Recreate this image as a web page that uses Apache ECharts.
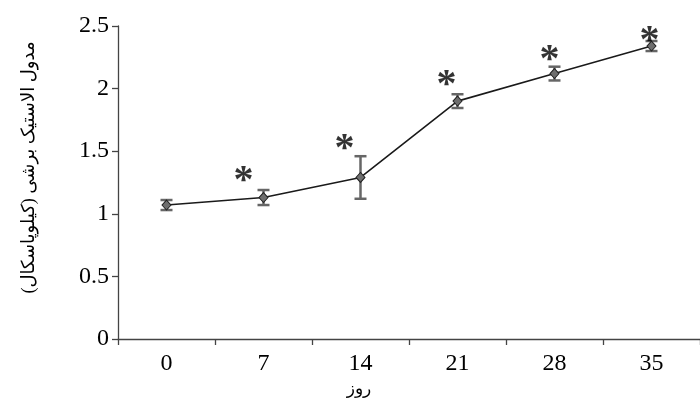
<!DOCTYPE html>
<html>
<head>
<meta charset="utf-8">
<script src="https://cdn.jsdelivr.net/npm/echarts@6/dist/echarts.min.js"></script>
<style>html,body{margin:0;padding:0;background:#fff;}#main{width:700px;height:409px;}</style>
</head>
<body>
<div id="main"></div>
<script>
const categories = ['0', '7', '14', '21', '28', '35'];
const meanValues = [1.07, 1.13, 1.29, 1.90, 2.12, 2.34];
const errorValues = [0.04, 0.06, 0.17, 0.055, 0.055, 0.04];
const sigMarkY = [null, 1.32, 1.58, 2.09, 2.29, 2.44];
const yTicks = ['0', '0.5', '1', '1.5', '2', '2.5'];
const xTitle = 'روز';
const yTitle = 'مدول الاستیک برشی (کیلوپاسکال)';

const sigOffsetX = [0, -20, -16, -11, -5, -2];
const serif = 'Liberation Serif, Times New Roman, DejaVu Sans, serif';

const chart = echarts.init(document.getElementById('main'), null, {renderer: 'canvas'});

const errData = categories.map((c, i) => [i, meanValues[i] - errorValues[i], meanValues[i] + errorValues[i]]);
const sigData = [];
categories.forEach((c, i) => {
  if (sigMarkY[i] != null) {
    sigData.push({value: [i, sigMarkY[i]], label: {offset: [sigOffsetX[i], 8]}});
  }
});

chart.setOption({
  animation: false,
  backgroundColor: '#fff',
  grid: {left: 118, top: 26, width: 588, height: 313, containLabel: false},
  xAxis: {
    type: 'category',
    data: categories,
    boundaryGap: true,
    name: xTitle,
    nameLocation: 'middle',
    nameGap: 40,
    nameTextStyle: {fontFamily: serif, fontSize: 17, color: '#000', padding: [0, 100, 0, 0]},
    axisLine: {lineStyle: {color: '#444', width: 1.3}},
    axisTick: {show: true, alignWithLabel: false, length: 6, lineStyle: {color: '#444', width: 1.3}},
    axisLabel: {fontFamily: serif, fontSize: 24, color: '#000', margin: 13},
    splitLine: {show: false}
  },
  yAxis: {
    type: 'value',
    min: 0, max: 2.5, interval: 0.5,
    name: yTitle,
    nameLocation: 'middle',
    nameGap: 80,
    nameRotate: 90,
    nameTextStyle: {fontFamily: serif, fontSize: 18, color: '#000', padding: [0, 0, 0, 30]},
    axisLine: {show: true, lineStyle: {color: '#444', width: 1.3}},
    axisTick: {show: true, length: 6, lineStyle: {color: '#444', width: 1.3}},
    axisLabel: {fontFamily: serif, fontSize: 24, color: '#000', margin: 9,
      formatter: (v) => yTicks[Math.round(v / 0.5)]},
    splitLine: {show: false}
  },
  series: [
    {
      type: 'custom',
      name: 'error',
      data: errData,
      z: 1,
      renderItem: function (params, api) {
        const x = api.value(0);
        const lo = api.coord([x, api.value(1)]);
        const hi = api.coord([x, api.value(2)]);
        const hw = 6;
        const style = {stroke: '#666', lineWidth: 2.5};
        return {
          type: 'group',
          children: [
            {type: 'line', shape: {x1: lo[0], y1: lo[1], x2: hi[0], y2: hi[1]}, style: style},
            {type: 'line', shape: {x1: lo[0] - hw, y1: lo[1], x2: lo[0] + hw, y2: lo[1]}, style: style},
            {type: 'line', shape: {x1: hi[0] - hw, y1: hi[1], x2: hi[0] + hw, y2: hi[1]}, style: style}
          ]
        };
      }
    },
    {
      type: 'line',
      name: 'mean',
      data: meanValues,
      z: 3,
      symbol: 'diamond',
      symbolSize: [9, 10],
      lineStyle: {color: '#1a1a1a', width: 1.6},
      itemStyle: {color: '#6e6e6e', borderColor: '#222', borderWidth: 1},
      label: {show: false}
    },
    {
      type: 'scatter',
      name: 'sig',
      data: sigData.map(d => ({value: d.value, label: {offset: [d.label.offset[0], 8]}})),
      symbol: 'circle',
      symbolSize: 2,
      z: 4,
      itemStyle: {color: 'rgba(0,0,0,0)'},
      label: {show: true, position: 'inside', formatter: '*', fontFamily: serif, fontSize: 40, fontWeight: 'bold', color: '#000'}
    }
  ]
});
</script>
</body>
</html>
